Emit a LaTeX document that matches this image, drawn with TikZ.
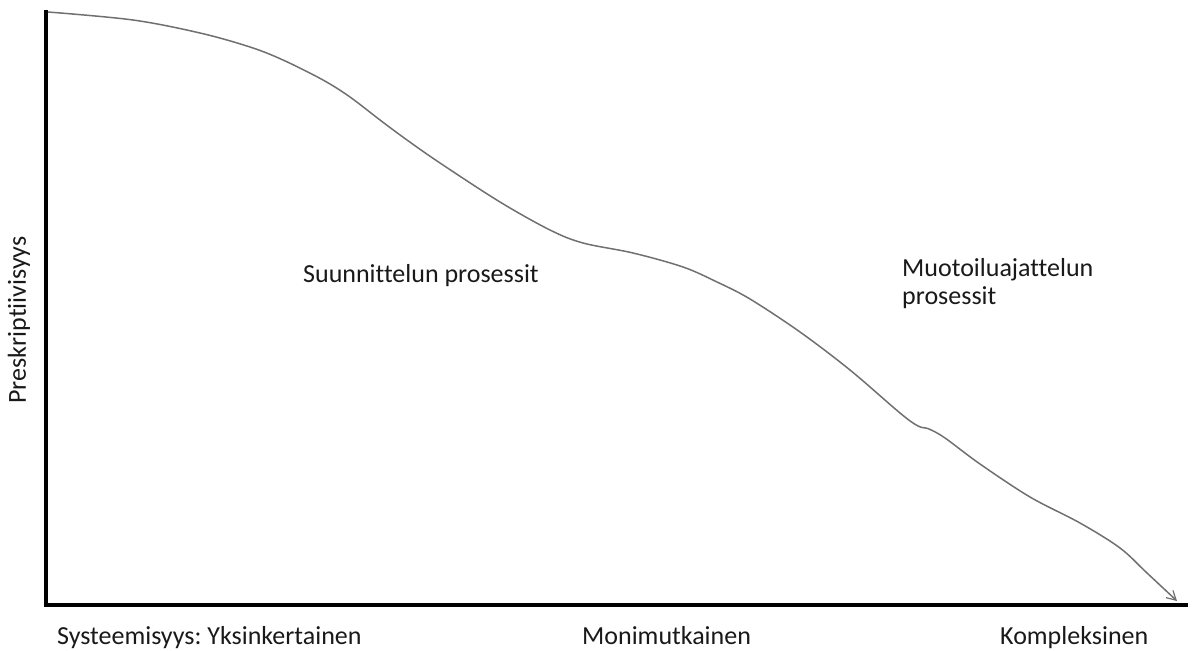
\documentclass[tikz,border=0pt]{standalone}
\usepackage{fontspec}
\setmainfont[Ligatures=NoCommon]{Carlito}
\usetikzlibrary{arrows.meta}
\frenchspacing
\begin{document}
\begin{tikzpicture}[x=1pt,y=-1pt,
  axis/.style={line width=4.2pt,black},
  trend/.style={line width=1.5pt,draw=black!56,-{Straight Barb[length=9pt,width=10pt,line width=1.2pt]}},
  label/.style={font=\fontsize{26}{28}\selectfont,text=black!90,inner sep=0pt}]
  \useasboundingbox (0,0) rectangle (1193,650);
  % axes
  \coordinate (top) at (46,10);
  \coordinate (origin) at (46,605);
  \coordinate (right) at (1188,605);
  \draw[axis] (top) -- (origin) -- (right);
  % descending trend curve
  \draw[trend] plot[smooth,tension=0.55] coordinates {
    (48,12) (133,20) (200,33) (250,47) (283,60) (323,80) (350,97)
    (380,120) (407,140) (440,163) (500,202) (550,230) (583,243)
    (633,253) (683,267) (717,282) (750,299) (800,332) (850,370)
    (900,413) (918,426) (929,429) (945,438) (980,464) (1030,497)
    (1080,523) (1120,548) (1147,573) (1177,601)};
  % labels
  \node[label,rotate=90] (yaxis) at (19,320) {Preskriptiivisyys};
  \node[label,anchor=base west] (simple) at (57,644) {Systeemisyys: Yksinkertainen};
  \node[label,anchor=base west] (complicated) at (582,644) {Monimutkainen};
  \node[label,anchor=base west] (complex) at (1000,644) {Kompleksinen};
  \node[label,anchor=base west] (design) at (303,282) {Suunnittelun prosessit};
  \node[label,anchor=base west,align=left] (thinking) at (902,304) {Muotoiluajattelun\\prosessit};
\end{tikzpicture}
\end{document}
